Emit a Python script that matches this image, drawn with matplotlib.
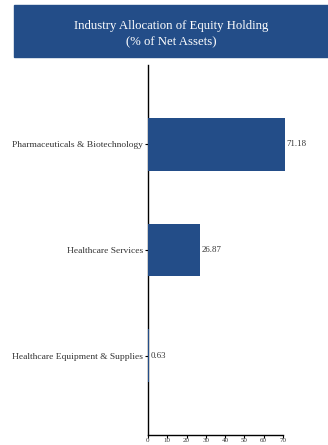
import matplotlib.pyplot as plt
from matplotlib.patches import Rectangle

categories = ['Pharmaceuticals & Biotechnology', 'Healthcare Services', 'Healthcare Equipment & Supplies']
values = [71.18, 26.87, 0.63]
xticks = [0, 10, 20, 30, 40, 50, 60, 70]

bar_color = '#234D88'
text_color = '#333333'
font = 'Liberation Serif'

fig = plt.figure(figsize=(3.28, 4.45), dpi=100)

# title banner across the top
fig.patches.append(Rectangle((14 / 328, 1 - 57 / 445), 314 / 328, 52 / 445,
                             transform=fig.transFigure, color=bar_color, zorder=0))
fig.text(0.522, 1 - 34 / 445, 'Industry Allocation of Equity Holding\n(% of Net Assets)',
         ha='center', va='center', color='white', fontsize=9.2, family=font,
         linespacing=1.5)

ax = fig.add_axes([148 / 328, 10 / 445, 135 / 328, 370 / 445])
ypos = list(range(len(categories)))
ax.barh(ypos, values, height=0.5, color=bar_color, clip_on=False, zorder=3)
for y, v in zip(ypos, values):
    ax.text(v + 0.8, y, f'{v:.2f}', va='center', ha='left', fontsize=6.3,
            color=text_color, family=font)

ax.set_xlim(0, 70)
ax.set_ylim(2.75, -0.75)
ax.set_yticks(ypos)
ax.set_yticklabels(categories, fontsize=6.8, color=text_color, family=font)
ax.set_xticks(xticks)
ax.set_xticklabels([str(t) for t in xticks], fontsize=5, color=text_color,
                   family=font)
ax.tick_params(axis='y', length=2.5, width=0.8, pad=1)
ax.tick_params(axis='x', length=2, width=0.8, pad=0.5)
for s in ['top', 'right']:
    ax.spines[s].set_visible(False)
ax.spines['left'].set_linewidth(1)
ax.spines['bottom'].set_linewidth(1)

fig.savefig('out.png', dpi=100)
